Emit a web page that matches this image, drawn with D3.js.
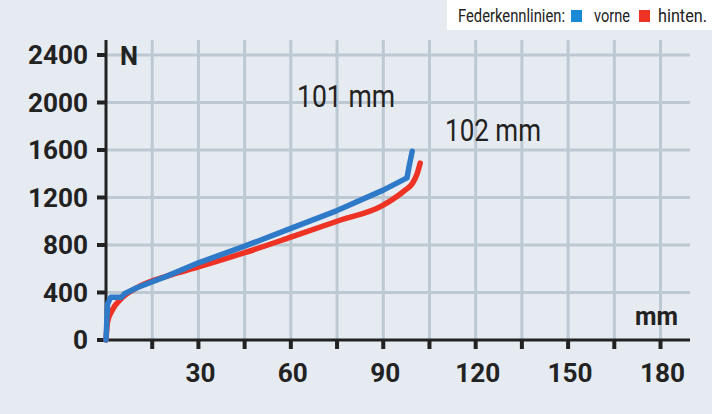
<!DOCTYPE html><html><head><meta charset="utf-8">
<script src="https://cdn.jsdelivr.net/npm/d3@7"></script>
<style>body{margin:0;background:#e6ebf1}svg{display:block}text{font-family:Roboto,"Liberation Sans",sans-serif}</style>
</head><body><svg id="c" width="712" height="414"></svg>
<script>
const xTicks=[30,60,90,120,150,180];
const yTicks=[0,400,800,1200,1600,2000,2400];
const vorneX=[0,0.5,1.5,5,6,10,20,30,45,60,75,90,97.7,98.3,99.4];
const vorneY=[0,300,360,360,390,440,540,650,790,940,1090,1262,1365,1450,1590];
const hintenX=[0,0.5,2,5,10,20,30,45,60,75,90,97,99.5,101,102];
const hintenY=[0,150,250,350,440,540,615,735,866,1000,1136,1260,1320,1400,1490];
const svg=d3.select("#c");
const x=d3.scaleLinear().domain([0,186]).range([106,679]);
const y=d3.scaleLinear().domain([0,2400]).range([340,55]);
const g=svg.append("g");
g.selectAll(".vg").data(d3.range(15,186,15)).join("line").attr("x1",d=>x(d)).attr("x2",d=>x(d)).attr("y1",40).attr("y2",340).attr("stroke","#bcc8d2").attr("stroke-width",3);
g.selectAll(".hg").data(yTicks.slice(1)).join("line").attr("x1",106).attr("x2",690).attr("y1",d=>y(d)).attr("y2",d=>y(d)).attr("stroke","#bcc8d2").attr("stroke-width",3);
svg.append("line").attr("x1",106).attr("x2",106).attr("y1",40).attr("y2",342).attr("stroke","#222").attr("stroke-width",3);
svg.append("line").attr("x1",104).attr("x2",690).attr("y1",340).attr("y2",340).attr("stroke","#222").attr("stroke-width",3);
svg.selectAll(".yt").data(yTicks).join("line").attr("x1",97).attr("x2",106).attr("y1",d=>y(d)).attr("y2",d=>y(d)).attr("stroke","#222").attr("stroke-width",4);
svg.selectAll(".xt").data(d3.range(15,186,15)).join("line").attr("x1",d=>x(d)).attr("x2",d=>x(d)).attr("y1",340).attr("y2",349).attr("stroke","#222").attr("stroke-width",4);
function T(px,py,s,size,len,opts={}){const t=svg.append("text").attr("x",px).attr("y",py).attr("font-size",size).attr("fill","#222").attr("textLength",len).attr("lengthAdjust","spacingAndGlyphs").text(s);if(opts.bold)t.attr("font-weight","bold");if(opts.anchor)t.attr("text-anchor",opts.anchor);return t;}
yTicks.forEach(d=>T(88,y(d)+9,String(d),25,15*String(d).length,{bold:1,anchor:"end"}));
xTicks.forEach(d=>T(x(d)+2,382,String(d),25,15*String(d).length,{bold:1,anchor:"middle"}));
T(120,65,"N",25,18,{bold:1});
T(678,325,"mm",25,43,{bold:1,anchor:"end"});
const line=d3.line().x(d=>x(d[0])).y(d=>y(d[1])).curve(d3.curveMonotoneX);
svg.append("path").datum(hintenX.map((v,i)=>[v,hintenY[i]])).attr("d",line).attr("fill","none").attr("stroke","#ee3224").attr("stroke-width",5.5).attr("stroke-linejoin","round").attr("stroke-linecap","round");
svg.append("path").datum(vorneX.map((v,i)=>[v,vorneY[i]])).attr("d",d3.line().x(d=>x(d[0])).y(d=>y(d[1]))).attr("fill","none").attr("stroke","#2f7ac8").attr("stroke-width",5.5).attr("stroke-linejoin","round").attr("stroke-linecap","round");
T(297,107,"101 mm",32,98);
T(445,141,"102 mm",32,96);
svg.append("rect").attr("x",447).attr("y",0).attr("width",265).attr("height",30).attr("fill","#fff");
T(458,22,"Federkennlinien:",19,107);
svg.append("rect").attr("x",571).attr("y",10).attr("width",11).attr("height",12).attr("fill","#1a8ad6");
T(594,22,"vorne",19,36);
svg.append("rect").attr("x",639).attr("y",10).attr("width",11).attr("height",12).attr("fill","#ee3224");
T(658,22,"hinten.",19,49);
</script></body></html>
